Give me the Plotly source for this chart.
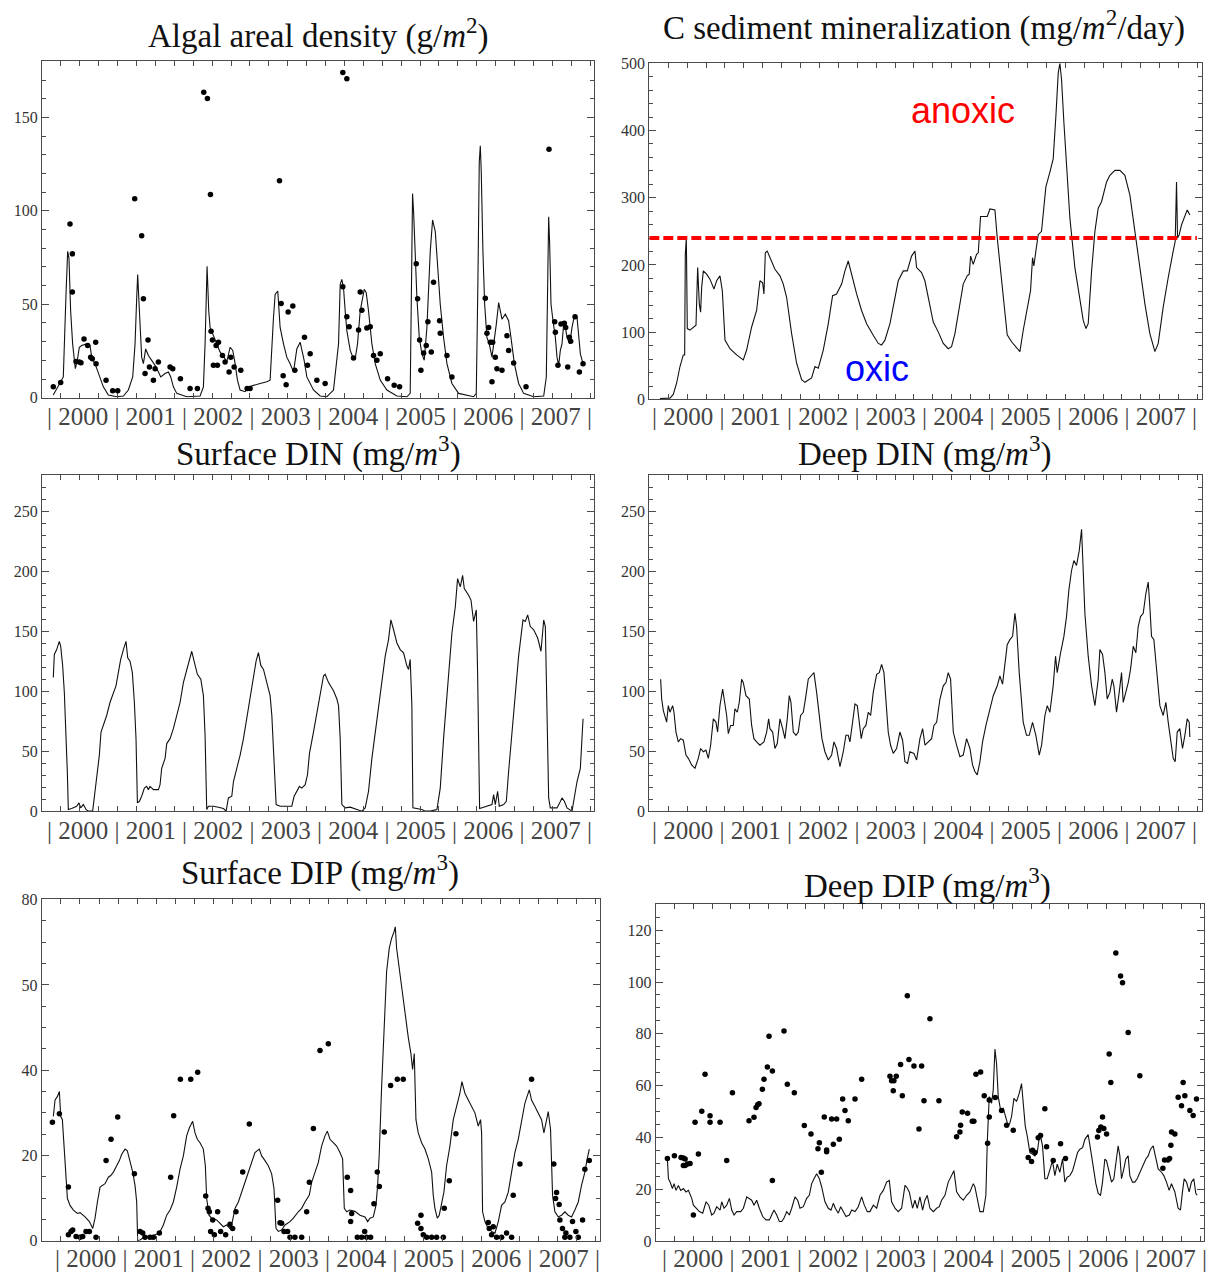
import plotly.graph_objects as go

# Time is expressed in years since 1 January 2000; x ticks every 100 days.
DAYS_PER_YEAR = 365.25
YEAR_LABELS = ["2000", "2001", "2002", "2003", "2004", "2005", "2006", "2007"]

# ---- Algal areal density (g/m^2): model line and observations ----
ALGAE_MODEL = [
    (0.164, 1.4), (0.309, 11.1), (0.348, 55.3), (0.372, 78.3), (0.391, 74.7), (0.415, 46.5),
    (0.444, 28.8), (0.483, 15.5), (0.512, 20.0), (0.541, 27.0), (0.575, 27.9), (0.647, 28.8),
    (0.696, 27.9), (0.720, 21.7), (0.768, 18.2), (0.816, 12.9), (0.889, 5.8), (0.961, 1.4),
    (1.082, 0.5), (1.179, 0.9), (1.251, 4.1), (1.314, 11.1), (1.348, 28.8), (1.372, 53.5),
    (1.386, 65.9), (1.411, 46.5), (1.444, 21.7), (1.469, 18.2), (1.502, 26.1), (1.541, 22.6),
    (1.589, 20.0), (1.638, 17.3), (1.686, 13.8), (1.720, 11.1), (1.783, 12.9), (1.831, 13.8),
    (1.865, 11.1), (1.903, 5.8), (1.952, 2.3), (2.097, 0.5), (2.290, 0.9), (2.338, 5.8),
    (2.362, 28.8), (2.377, 60.6), (2.391, 70.3), (2.415, 46.5), (2.435, 37.6), (2.483, 33.2),
    (2.531, 28.8), (2.580, 24.4), (2.638, 21.7), (2.676, 19.1), (2.725, 27.0), (2.763, 25.3),
    (2.797, 18.2), (2.831, 9.4), (2.870, 4.1), (2.942, 3.2), (2.990, 5.8), (3.063, 6.7),
    (3.159, 7.6), (3.256, 8.5), (3.304, 9.4), (3.353, 42.9), (3.377, 55.3), (3.415, 57.1),
    (3.449, 37.6), (3.498, 28.8), (3.546, 21.7), (3.594, 18.2), (3.643, 13.8), (3.691, 26.1),
    (3.739, 29.7), (3.797, 20.0), (3.836, 11.1), (3.932, 4.1), (4.029, 0.9), (4.126, 0.5),
    (4.222, 4.1), (4.295, 28.8), (4.319, 60.6), (4.343, 63.3), (4.367, 58.8), (4.391, 46.5),
    (4.415, 35.9), (4.464, 25.3), (4.502, 21.7), (4.536, 20.8), (4.570, 28.8), (4.609, 46.5),
    (4.667, 58.0), (4.696, 56.2), (4.729, 46.5), (4.778, 28.8), (4.826, 18.2), (4.899, 9.4),
    (4.995, 4.1), (5.140, 0.9), (5.285, 0.5), (5.333, 2.3), (5.353, 64.1), (5.367, 109.2),
    (5.382, 99.5), (5.406, 74.7), (5.430, 53.5), (5.464, 32.3), (5.502, 23.5), (5.536, 20.0),
    (5.575, 37.6), (5.623, 78.3), (5.657, 95.1), (5.696, 88.9), (5.729, 71.2), (5.768, 50.0),
    (5.816, 32.3), (5.865, 18.2), (5.937, 7.6), (6.034, 2.3), (6.251, 0.5), (6.290, 2.3),
    (6.314, 64.1), (6.333, 126.0), (6.348, 134.8), (6.362, 120.7), (6.386, 78.3), (6.411, 50.0),
    (6.444, 32.3), (6.478, 28.8), (6.517, 21.7), (6.551, 30.6), (6.580, 39.4), (6.614, 50.9),
    (6.638, 46.5), (6.662, 42.0), (6.710, 44.7), (6.758, 41.2), (6.792, 32.3), (6.841, 18.2),
    (6.903, 7.6), (6.976, 2.3), (7.121, 0.5), (7.266, 0.9), (7.304, 11.1), (7.324, 81.8),
    (7.338, 96.8), (7.353, 81.8), (7.372, 50.0), (7.401, 41.2), (7.435, 32.3), (7.459, 21.7),
    (7.483, 17.3), (7.507, 25.3), (7.531, 28.8), (7.556, 39.4), (7.580, 37.6), (7.604, 32.3),
    (7.643, 28.8), (7.676, 37.6), (7.710, 43.8), (7.749, 42.9), (7.773, 34.1), (7.797, 23.5),
    (7.836, 18.2),
]
ALGAE_OBS = [
    (0.164, 5.8), (0.271, 8.1), (0.406, 92.9), (0.440, 77.0), (0.440, 56.5), (0.493, 19.4),
    (0.541, 19.1), (0.565, 18.7), (0.609, 31.4), (0.662, 27.9), (0.705, 21.7), (0.729, 20.8),
    (0.783, 18.2), (0.778, 29.7), (0.928, 9.4), (1.024, 3.7), (1.097, 3.7), (1.343, 106.4),
    (1.444, 86.6), (1.469, 53.0), (1.493, 12.9), (1.536, 30.9), (1.556, 16.4), (1.614, 9.4),
    (1.638, 15.5), (1.686, 19.1), (1.855, 16.4), (1.894, 15.5), (2.005, 10.2), (2.145, 4.9),
    (2.251, 4.9), (2.343, 163.4), (2.396, 160.1), (2.440, 108.8), (2.449, 35.5), (2.469, 30.9),
    (2.483, 17.3), (2.522, 27.9), (2.541, 17.3), (2.556, 29.7), (2.614, 22.6), (2.652, 19.1),
    (2.710, 13.8), (2.734, 21.7), (2.783, 16.4), (2.879, 14.7), (2.971, 4.9), (3.014, 4.9),
    (3.440, 116.1), (3.464, 50.4), (3.493, 11.7), (3.536, 6.9), (3.565, 45.9), (3.633, 49.1),
    (3.662, 14.7), (3.802, 32.3), (3.845, 17.3), (3.884, 23.5), (3.981, 9.4), (4.101, 7.6),
    (4.357, 174.0), (4.415, 170.7), (4.357, 59.4), (4.415, 43.3), (4.449, 38.0), (4.512, 21.2),
    (4.585, 36.2), (4.633, 46.8), (4.609, 56.5), (4.705, 37.3), (4.754, 38.0), (4.802, 22.6),
    (4.850, 20.0), (4.899, 23.5), (5.005, 10.2), (5.101, 6.7), (5.179, 5.8), (5.420, 71.7),
    (5.440, 53.0), (5.469, 30.9), (5.488, 14.7), (5.527, 23.9), (5.565, 27.9), (5.589, 40.6),
    (5.638, 24.4), (5.671, 61.8), (5.758, 41.2), (5.768, 34.5), (5.865, 22.6), (5.937, 11.1),
    (6.420, 53.2), (6.444, 34.5), (6.469, 37.6), (6.493, 29.7), (6.517, 8.5), (6.527, 29.7),
    (6.565, 21.7), (6.589, 15.5), (6.662, 14.7), (6.734, 33.2), (6.758, 25.3), (6.831, 18.6),
    (7.010, 5.8), (7.343, 133.0), (7.425, 40.6), (7.435, 35.0), (7.473, 17.3), (7.517, 39.4),
    (7.565, 39.8), (7.585, 37.6), (7.614, 16.4), (7.638, 32.3), (7.657, 30.2), (7.720, 43.3),
    (7.783, 13.8), (7.836, 18.2),
]

# ---- C sediment mineralization (mg/m^2/day) ----
SED_MIN = [
    (0.154, 1.5), (0.299, 2.0), (0.347, 7.4), (0.396, 24.5), (0.444, 49.0), (0.492, 66.2),
    (0.512, 66.2), (0.521, 215.7), (0.536, 240.2), (0.550, 105.4), (0.589, 103.0), (0.637, 107.8),
    (0.676, 110.3), (0.700, 196.1), (0.724, 142.2), (0.743, 129.9), (0.758, 166.7), (0.782, 191.2),
    (0.830, 186.3), (0.878, 178.9), (0.936, 164.2), (0.975, 176.5), (1.023, 183.8), (1.057, 161.8),
    (1.096, 88.2), (1.168, 75.5), (1.264, 66.2), (1.361, 58.8), (1.409, 73.5), (1.482, 107.8),
    (1.554, 132.3), (1.602, 176.5), (1.641, 173.5), (1.660, 156.9), (1.680, 218.1), (1.708, 220.6),
    (1.747, 210.8), (1.819, 193.6), (1.892, 183.8), (1.940, 171.6), (1.988, 152.0), (2.061, 98.0),
    (2.133, 53.9), (2.206, 29.4), (2.254, 25.5), (2.350, 31.9), (2.399, 49.0), (2.447, 46.6),
    (2.519, 73.5), (2.592, 112.7), (2.654, 154.4), (2.712, 156.9), (2.785, 171.6), (2.833, 191.2),
    (2.881, 205.9), (2.929, 186.3), (3.002, 156.9), (3.074, 132.3), (3.147, 112.7), (3.243, 95.6),
    (3.316, 83.3), (3.364, 80.9), (3.412, 88.2), (3.485, 112.7), (3.557, 154.4), (3.605, 176.5),
    (3.678, 191.2), (3.736, 191.2), (3.798, 213.2), (3.847, 220.6), (3.871, 196.1), (3.943, 188.7),
    (3.991, 176.5), (4.064, 142.2), (4.112, 115.2), (4.184, 100.5), (4.257, 83.3), (4.329, 75.5),
    (4.377, 78.4), (4.426, 98.0), (4.498, 142.2), (4.546, 171.6), (4.604, 183.8), (4.633, 186.3),
    (4.653, 213.2), (4.691, 200.9), (4.739, 215.7), (4.764, 218.1), (4.797, 272.1), (4.894, 272.1),
    (4.933, 283.3), (5.005, 281.9), (5.039, 240.2), (5.087, 191.2), (5.150, 137.3), (5.183, 96.1),
    (5.246, 85.8), (5.309, 78.4), (5.367, 71.1), (5.415, 102.9), (5.473, 132.3), (5.521, 161.8),
    (5.550, 210.8), (5.569, 198.5), (5.598, 220.6), (5.632, 245.1), (5.680, 250.0), (5.743, 316.2),
    (5.801, 338.2), (5.849, 357.8), (5.888, 421.6), (5.922, 485.3), (5.946, 500.0), (5.970, 475.5),
    (6.004, 411.8), (6.042, 348.0), (6.091, 269.6), (6.163, 196.1), (6.236, 152.0), (6.284, 117.6),
    (6.323, 105.4), (6.356, 112.7), (6.405, 191.2), (6.453, 250.0), (6.501, 284.3), (6.549, 294.1),
    (6.622, 323.5), (6.670, 333.3), (6.743, 340.7), (6.815, 340.7), (6.887, 333.3), (6.960, 303.9),
    (7.032, 250.0), (7.104, 196.1), (7.177, 142.2), (7.249, 98.0), (7.322, 71.1), (7.370, 83.3),
    (7.442, 137.3), (7.515, 181.4), (7.563, 210.8), (7.587, 220.6), (7.616, 235.3), (7.635, 323.5),
    (7.650, 240.2), (7.674, 245.1), (7.708, 259.8), (7.756, 274.5), (7.790, 281.9), (7.828, 274.5),
]
ANOXIC_LEVEL = 240

# ---- Surface DIN (mg/m^3) ----
SURF_DIN = [
    (0.164, 111.3), (0.179, 130.5), (0.213, 134.6), (0.251, 141.5), (0.271, 137.4), (0.300, 120.9),
    (0.324, 98.9), (0.348, 65.9), (0.367, 33.0), (0.382, 1.4), (0.430, 2.2), (0.502, 4.1),
    (0.536, 6.9), (0.560, 2.7), (0.599, 5.5), (0.638, 1.4), (0.671, 0.0), (0.734, 0.0),
    (0.758, 11.0), (0.792, 27.5), (0.831, 46.7), (0.855, 65.9), (0.889, 71.4), (0.937, 79.7),
    (0.986, 90.7), (1.034, 98.9), (1.072, 104.4), (1.106, 115.4), (1.140, 126.4), (1.179, 134.6),
    (1.217, 141.5), (1.242, 127.7), (1.275, 125.0), (1.309, 115.4), (1.338, 90.7), (1.362, 60.4),
    (1.382, 6.9), (1.411, 8.2), (1.444, 12.4), (1.483, 19.2), (1.517, 20.6), (1.541, 17.9),
    (1.565, 20.6), (1.614, 17.9), (1.686, 17.9), (1.710, 22.0), (1.734, 35.7), (1.783, 44.0),
    (1.807, 56.3), (1.855, 60.4), (1.903, 68.7), (1.952, 79.7), (2.000, 90.7), (2.048, 107.1),
    (2.087, 115.4), (2.121, 125.0), (2.169, 133.2), (2.203, 125.0), (2.251, 114.0), (2.300, 109.9),
    (2.338, 96.2), (2.362, 63.2), (2.386, 1.4), (2.411, 4.1), (2.483, 4.1), (2.556, 3.3),
    (2.628, 2.2), (2.667, 0.0), (2.700, 11.0), (2.749, 12.4), (2.773, 24.7), (2.821, 35.7),
    (2.870, 46.7), (2.918, 60.4), (2.966, 76.9), (3.014, 93.4), (3.063, 109.9), (3.101, 125.0),
    (3.135, 132.1), (3.169, 121.4), (3.208, 118.1), (3.256, 107.1), (3.304, 96.2), (3.329, 79.7),
    (3.353, 46.7), (3.391, 5.5), (3.449, 4.1), (3.546, 4.1), (3.618, 4.1), (3.652, 12.4),
    (3.691, 16.5), (3.729, 20.6), (3.763, 19.2), (3.812, 22.0), (3.845, 30.2), (3.874, 48.1),
    (3.932, 65.9), (3.981, 82.4), (4.029, 98.9), (4.077, 112.6), (4.101, 114.0), (4.150, 107.1),
    (4.222, 100.3), (4.271, 93.4), (4.295, 87.9), (4.319, 60.4), (4.343, 5.5), (4.391, 2.7),
    (4.464, 3.3), (4.560, 1.4), (4.633, 0.0), (4.681, 2.7), (4.729, 16.5), (4.778, 44.0),
    (4.826, 65.9), (4.899, 98.9), (4.971, 129.1), (5.019, 142.9), (5.053, 159.3), (5.092, 151.1),
    (5.140, 140.1), (5.188, 134.6), (5.237, 131.9), (5.285, 120.9), (5.309, 118.1), (5.333, 126.4),
    (5.357, 87.9), (5.372, 2.7), (5.406, 2.2), (5.502, 1.4), (5.551, 0.0), (5.623, 0.0),
    (5.720, 1.4), (5.768, 19.2), (5.816, 60.4), (5.865, 98.9), (5.937, 148.4), (5.986, 170.3),
    (6.019, 193.7), (6.058, 186.8), (6.092, 196.4), (6.116, 185.4), (6.179, 179.9), (6.213, 175.8),
    (6.251, 158.0), (6.290, 167.6), (6.309, 115.4), (6.338, 2.2), (6.444, 4.1), (6.517, 5.5),
    (6.541, 13.7), (6.565, 5.5), (6.599, 16.5), (6.623, 4.1), (6.686, 5.5), (6.725, 8.2),
    (6.758, 33.0), (6.807, 65.9), (6.855, 101.6), (6.903, 129.1), (6.966, 159.3), (7.000, 158.0),
    (7.034, 163.5), (7.072, 153.8), (7.121, 151.1), (7.179, 144.2), (7.227, 133.2), (7.266, 159.3),
    (7.290, 153.8), (7.314, 87.9), (7.338, 11.0), (7.362, 2.7), (7.459, 2.7), (7.498, 6.9),
    (7.531, 11.0), (7.565, 8.2), (7.604, 2.7), (7.676, 0.0), (7.710, 11.0), (7.749, 24.7),
    (7.797, 35.7), (7.836, 76.9),
]

# ---- Deep DIN (mg/m^3) ----
DEEP_DIN = [
    (0.164, 109.9), (0.179, 93.4), (0.203, 83.8), (0.227, 79.7), (0.251, 74.2), (0.275, 87.9),
    (0.299, 82.4), (0.338, 87.9), (0.357, 82.4), (0.386, 65.9), (0.420, 57.7), (0.454, 60.4),
    (0.492, 59.1), (0.531, 46.7), (0.565, 44.0), (0.613, 38.5), (0.661, 35.7), (0.709, 44.0),
    (0.743, 52.2), (0.782, 49.5), (0.820, 50.8), (0.854, 44.0), (0.888, 54.9), (0.927, 76.9),
    (0.965, 74.2), (0.989, 65.9), (1.023, 87.9), (1.062, 101.6), (1.096, 87.9), (1.120, 79.7),
    (1.144, 64.6), (1.178, 71.4), (1.216, 71.4), (1.240, 85.2), (1.274, 82.4), (1.303, 90.7),
    (1.337, 109.9), (1.361, 107.1), (1.400, 96.2), (1.448, 93.4), (1.482, 71.4), (1.515, 60.4),
    (1.554, 57.7), (1.602, 54.9), (1.660, 57.7), (1.699, 65.9), (1.728, 76.9), (1.747, 68.7),
    (1.786, 65.9), (1.819, 52.2), (1.853, 56.3), (1.892, 76.9), (1.931, 68.7), (1.964, 60.4),
    (1.998, 76.9), (2.027, 96.2), (2.051, 90.7), (2.085, 65.9), (2.124, 63.2), (2.157, 65.9),
    (2.191, 79.7), (2.230, 82.4), (2.268, 96.2), (2.302, 109.9), (2.341, 112.6), (2.384, 115.4),
    (2.423, 98.9), (2.461, 76.9), (2.500, 60.4), (2.543, 49.5), (2.592, 42.6), (2.640, 46.7),
    (2.674, 57.7), (2.712, 52.2), (2.761, 37.1), (2.809, 49.5), (2.847, 63.2), (2.881, 63.2),
    (2.905, 57.7), (2.944, 74.2), (2.978, 89.3), (3.012, 87.9), (3.041, 74.2), (3.069, 60.4),
    (3.098, 68.7), (3.137, 71.4), (3.171, 82.4), (3.205, 79.7), (3.243, 98.9), (3.292, 114.0),
    (3.330, 115.4), (3.364, 122.3), (3.398, 115.4), (3.427, 87.9), (3.460, 65.9), (3.494, 54.9),
    (3.533, 48.1), (3.581, 52.2), (3.629, 65.9), (3.668, 59.1), (3.702, 41.2), (3.740, 39.8),
    (3.774, 49.5), (3.832, 48.1), (3.871, 42.6), (3.919, 60.4), (3.958, 68.7), (3.992, 55.0),
    (4.040, 57.7), (4.088, 60.4), (4.122, 71.4), (4.161, 74.0), (4.209, 93.4), (4.257, 104.4),
    (4.296, 107.1), (4.329, 115.4), (4.363, 109.9), (4.402, 65.9), (4.450, 55.0), (4.498, 45.3),
    (4.546, 46.7), (4.595, 60.4), (4.643, 52.2), (4.681, 38.5), (4.715, 33.0), (4.749, 30.2),
    (4.788, 41.2), (4.826, 57.7), (4.875, 71.4), (4.932, 85.2), (4.981, 96.2), (5.039, 104.4),
    (5.077, 112.6), (5.116, 105.8), (5.150, 120.9), (5.183, 138.7), (5.222, 142.9), (5.261, 145.6),
    (5.295, 164.8), (5.319, 153.8), (5.357, 115.4), (5.415, 74.0), (5.463, 63.2), (5.502, 63.2),
    (5.550, 74.0), (5.598, 63.2), (5.647, 46.7), (5.681, 55.0), (5.729, 79.7), (5.763, 87.9),
    (5.801, 82.4), (5.849, 104.4), (5.883, 129.1), (5.907, 115.4), (5.956, 131.9), (6.004, 145.6),
    (6.042, 162.1), (6.076, 184.1), (6.115, 200.5), (6.149, 208.8), (6.187, 204.7), (6.226, 217.0),
    (6.260, 234.9), (6.284, 203.3), (6.308, 164.8), (6.356, 129.1), (6.405, 104.4), (6.453, 87.9),
    (6.501, 109.9), (6.525, 134.6), (6.564, 130.5), (6.598, 115.4), (6.631, 93.4), (6.670, 98.9),
    (6.704, 109.9), (6.728, 104.4), (6.766, 82.4), (6.805, 98.9), (6.839, 115.4), (6.863, 90.7),
    (6.902, 98.9), (6.936, 107.1), (6.969, 118.1), (7.008, 137.4), (7.046, 131.9), (7.080, 153.8),
    (7.114, 162.1), (7.153, 164.8), (7.191, 181.3), (7.225, 190.9), (7.249, 170.3), (7.273, 145.6),
    (7.307, 142.9), (7.346, 120.9), (7.394, 87.9), (7.442, 79.7), (7.481, 90.7), (7.515, 74.0),
    (7.548, 60.4), (7.587, 44.0), (7.616, 41.2), (7.645, 65.9), (7.683, 68.7), (7.722, 52.2),
    (7.756, 63.2), (7.790, 76.9), (7.819, 74.0), (7.828, 61.8),
]

# ---- Surface DIP (mg/m^3): model line and observations ----
SURF_DIP_MODEL = [
    (0.167, 29.2), (0.191, 33.0), (0.224, 33.8), (0.253, 35.0), (0.272, 29.2), (0.296, 28.4),
    (0.320, 22.2), (0.344, 16.0), (0.368, 9.9), (0.406, 8.3), (0.454, 7.2), (0.511, 6.4),
    (0.549, 6.6), (0.621, 5.6), (0.683, 4.5), (0.731, 2.9), (0.764, 5.3), (0.798, 9.1),
    (0.836, 12.6), (0.907, 13.4), (0.955, 14.9), (0.989, 15.3), (1.027, 16.1), (1.074, 17.6),
    (1.113, 18.8), (1.146, 20.3), (1.194, 21.5), (1.227, 21.1), (1.266, 18.4), (1.304, 16.1),
    (1.337, 13.0), (1.361, 9.1), (1.375, 0.0), (1.409, 0.2), (1.480, 1.0), (1.552, 1.0),
    (1.624, 1.4), (1.686, 1.8), (1.743, 3.7), (1.791, 6.0), (1.839, 7.2), (1.886, 9.1),
    (1.934, 12.6), (1.982, 16.8), (2.030, 19.9), (2.077, 24.6), (2.116, 26.5), (2.163, 28.0),
    (2.197, 25.3), (2.230, 23.8), (2.268, 23.0), (2.316, 21.5), (2.345, 17.6), (2.364, 9.9),
    (2.397, 6.0), (2.436, 5.3), (2.507, 4.9), (2.555, 4.1), (2.603, 3.3), (2.650, 3.7),
    (2.698, 2.9), (2.732, 4.5), (2.770, 7.6), (2.818, 9.1), (2.865, 11.4), (2.913, 13.7),
    (2.961, 16.1), (3.009, 18.8), (3.056, 20.7), (3.118, 21.5), (3.152, 19.9), (3.200, 18.8),
    (3.247, 17.6), (3.295, 15.7), (3.329, 12.2), (3.357, 2.9), (3.391, 2.2), (3.438, 2.5),
    (3.486, 3.7), (3.558, 4.5), (3.606, 5.3), (3.677, 6.8), (3.725, 7.6), (3.773, 9.1),
    (3.835, 10.7), (3.868, 13.7), (3.916, 16.1), (3.964, 18.4), (4.011, 22.2), (4.059, 24.6),
    (4.093, 25.7), (4.131, 23.8), (4.179, 23.0), (4.226, 22.2), (4.274, 20.7), (4.312, 19.2),
    (4.336, 7.6), (4.370, 6.8), (4.417, 7.2), (4.489, 6.9), (4.561, 6.0), (4.633, 5.6),
    (4.671, 4.5), (4.704, 5.3), (4.752, 5.6), (4.790, 8.3), (4.814, 13.0), (4.838, 20.7),
    (4.871, 36.1), (4.909, 51.6), (4.943, 63.2), (4.981, 68.6), (5.014, 70.9), (5.048, 72.4),
    (5.067, 73.6), (5.086, 68.6), (5.124, 63.9), (5.158, 59.3), (5.191, 54.7), (5.220, 51.6),
    (5.253, 47.7), (5.291, 43.9), (5.315, 40.2), (5.339, 43.9), (5.363, 28.4), (5.396, 25.3),
    (5.444, 23.0), (5.492, 21.5), (5.540, 19.2), (5.588, 16.1), (5.611, 10.7), (5.635, 7.6),
    (5.669, 5.3), (5.697, 6.0), (5.731, 9.1), (5.764, 11.4), (5.802, 17.6), (5.850, 22.2),
    (5.898, 28.4), (5.946, 31.5), (5.993, 34.6), (6.022, 37.3), (6.065, 34.6), (6.113, 33.0),
    (6.160, 31.5), (6.208, 30.0), (6.256, 26.9), (6.289, 28.4), (6.304, 25.3), (6.318, 6.8),
    (6.352, 4.5), (6.399, 2.9), (6.447, 2.2), (6.495, 1.8), (6.543, 4.5), (6.590, 8.3),
    (6.638, 9.1), (6.686, 11.4), (6.734, 16.1), (6.781, 20.7), (6.829, 23.8), (6.877, 28.4),
    (6.925, 32.3), (6.987, 35.4), (7.020, 33.0), (7.068, 31.5), (7.116, 30.0), (7.163, 28.4),
    (7.197, 25.3), (7.235, 28.4), (7.259, 30.3), (7.292, 26.1), (7.321, 10.7), (7.354, 6.8),
    (7.402, 5.6), (7.450, 6.0), (7.498, 6.8), (7.545, 6.0), (7.593, 5.6), (7.641, 7.2),
    (7.689, 9.1), (7.736, 13.0), (7.784, 16.1), (7.818, 19.2), (7.847, 21.5),
]
SURF_DIP_OBS = [
    (0.153, 27.8), (0.253, 29.8), (0.382, 12.6), (0.382, 1.4), (0.420, 2.2), (0.444, 2.5),
    (0.492, 1.0), (0.549, 0.8), (0.587, 1.0), (0.635, 2.2), (0.683, 2.2), (0.778, 0.8),
    (0.922, 18.8), (0.993, 23.8), (1.089, 29.0), (1.328, 15.7), (1.409, 2.2), (1.447, 1.8),
    (1.480, 0.8), (1.552, 0.8), (1.600, 0.8), (1.686, 1.8), (1.848, 14.9), (1.891, 29.3),
    (1.987, 37.9), (2.135, 37.9), (2.235, 39.5), (2.350, 10.5), (2.383, 7.6), (2.402, 6.8),
    (2.421, 2.2), (2.450, 4.9), (2.474, 1.4), (2.521, 6.8), (2.564, 2.2), (2.636, 1.4),
    (2.698, 3.9), (2.736, 2.9), (2.784, 6.8), (2.880, 16.1), (2.975, 27.4), (3.381, 9.5),
    (3.415, 4.2), (3.438, 4.1), (3.472, 2.2), (3.524, 2.2), (3.558, 0.8), (3.629, 0.8),
    (3.725, 0.8), (3.797, 6.8), (3.835, 13.7), (3.893, 26.3), (3.988, 44.6), (4.107, 46.2),
    (4.379, 14.9), (4.427, 11.8), (4.427, 4.5), (4.442, 6.4), (4.523, 0.8), (4.585, 0.8),
    (4.628, 2.2), (4.656, 0.8), (4.713, 0.8), (4.761, 8.7), (4.809, 16.1), (4.838, 12.7),
    (4.909, 25.5), (5.000, 36.4), (5.096, 37.9), (5.181, 37.9), (5.387, 4.1), (5.435, 6.0),
    (5.435, 2.9), (5.468, 1.4), (5.516, 0.8), (5.588, 0.8), (5.659, 0.8), (5.755, 0.8),
    (5.769, 7.6), (5.841, 14.1), (5.936, 25.1), (6.399, 4.3), (6.414, 2.9), (6.447, 1.4),
    (6.471, 3.3), (6.519, 0.8), (6.591, 0.8), (6.662, 1.8), (6.734, 0.8), (6.757, 10.7),
    (6.853, 18.0), (7.020, 37.9), (7.339, 18.0), (7.364, 9.9), (7.378, 11.3), (7.416, 8.5),
    (7.426, 4.9), (7.463, 2.9), (7.497, 0.8), (7.512, 1.8), (7.569, 0.8), (7.607, 4.5),
    (7.655, 2.2), (7.689, 0.8), (7.751, 4.9), (7.784, 16.8), (7.847, 18.8),
]
SURF_DIP_TICKS = [0, 20, 40, 60, 80]
SURF_DIP_TICKTEXT = ["0", "20", "40", "50", "80"]

# ---- Deep DIP (mg/m^3): model line and observations ----
DEEP_DIP_MODEL = [
    (0.170, 31.7), (0.185, 24.1), (0.209, 22.8), (0.243, 20.3), (0.267, 22.2), (0.296, 19.6),
    (0.330, 21.5), (0.364, 19.6), (0.403, 20.3), (0.442, 19.0), (0.476, 19.6), (0.525, 16.5),
    (0.549, 13.9), (0.588, 12.7), (0.637, 11.4), (0.685, 10.8), (0.734, 15.2), (0.773, 13.9),
    (0.816, 10.1), (0.850, 10.8), (0.889, 13.3), (0.938, 12.0), (0.962, 15.2), (0.996, 12.7),
    (1.035, 13.9), (1.074, 16.5), (1.108, 12.0), (1.142, 10.1), (1.181, 11.4), (1.239, 11.4),
    (1.278, 12.7), (1.327, 17.1), (1.365, 16.5), (1.399, 15.8), (1.433, 13.9), (1.472, 15.8),
    (1.511, 12.7), (1.560, 9.5), (1.608, 8.2), (1.657, 8.2), (1.691, 10.1), (1.725, 12.0),
    (1.764, 10.1), (1.803, 7.6), (1.837, 7.6), (1.871, 8.9), (1.910, 11.4), (1.948, 10.1),
    (1.983, 12.7), (2.031, 17.1), (2.070, 15.8), (2.104, 12.7), (2.153, 13.3), (2.201, 16.5),
    (2.240, 17.7), (2.274, 22.2), (2.308, 24.1), (2.347, 26.0), (2.386, 24.1), (2.420, 20.9),
    (2.468, 15.2), (2.517, 12.7), (2.556, 12.0), (2.590, 14.6), (2.619, 12.7), (2.663, 10.8),
    (2.697, 13.3), (2.736, 11.4), (2.775, 9.5), (2.823, 10.1), (2.857, 12.0), (2.906, 11.4),
    (2.954, 13.3), (3.003, 17.1), (3.042, 13.9), (3.086, 11.4), (3.124, 11.4), (3.173, 13.9),
    (3.222, 12.7), (3.270, 17.7), (3.319, 19.6), (3.367, 22.8), (3.406, 23.4), (3.440, 15.2),
    (3.489, 12.7), (3.537, 11.4), (3.586, 12.7), (3.635, 21.5), (3.659, 20.9), (3.698, 19.0),
    (3.746, 12.7), (3.780, 15.8), (3.814, 12.7), (3.853, 17.1), (3.892, 12.0), (3.926, 15.8),
    (3.960, 17.7), (3.999, 12.7), (4.048, 11.4), (4.096, 12.7), (4.135, 13.3), (4.169, 15.8),
    (4.218, 17.7), (4.266, 22.8), (4.315, 25.3), (4.349, 27.2), (4.388, 19.0), (4.436, 17.1),
    (4.485, 15.8), (4.534, 17.7), (4.582, 19.0), (4.631, 22.2), (4.655, 20.9), (4.679, 17.7),
    (4.728, 11.4), (4.777, 11.4), (4.815, 17.7), (4.835, 38.0), (4.864, 55.8), (4.898, 53.2),
    (4.922, 58.3), (4.947, 74.1), (4.971, 68.4), (4.995, 55.8), (5.029, 50.7), (5.068, 51.3),
    (5.102, 48.2), (5.141, 44.4), (5.165, 45.6), (5.190, 48.2), (5.224, 55.1), (5.262, 53.9),
    (5.301, 57.0), (5.335, 60.8), (5.360, 53.2), (5.389, 44.4), (5.418, 40.6), (5.457, 34.2),
    (5.496, 33.6), (5.530, 32.9), (5.564, 34.2), (5.603, 41.8), (5.641, 36.8), (5.675, 24.1),
    (5.709, 24.1), (5.748, 27.9), (5.787, 31.0), (5.821, 25.3), (5.855, 29.7), (5.894, 26.6),
    (5.933, 31.7), (5.967, 22.8), (6.001, 24.7), (6.040, 25.3), (6.079, 27.2), (6.113, 30.4),
    (6.152, 34.2), (6.186, 35.5), (6.225, 36.1), (6.259, 39.3), (6.307, 41.1), (6.341, 35.5),
    (6.380, 27.9), (6.419, 22.2), (6.453, 18.4), (6.487, 17.7), (6.516, 22.8), (6.550, 31.7),
    (6.575, 31.0), (6.613, 26.6), (6.647, 22.8), (6.681, 24.1), (6.710, 30.4), (6.744, 36.8),
    (6.769, 32.9), (6.793, 24.1), (6.827, 27.9), (6.856, 31.7), (6.890, 32.9), (6.914, 25.3),
    (6.953, 22.8), (6.987, 22.8), (7.021, 24.1), (7.060, 26.6), (7.099, 29.1), (7.148, 31.7),
    (7.182, 32.9), (7.216, 35.5), (7.255, 36.8), (7.289, 32.9), (7.328, 27.9), (7.376, 26.6),
    (7.410, 25.3), (7.449, 22.8), (7.488, 19.6), (7.522, 22.2), (7.571, 19.0), (7.619, 12.7),
    (7.653, 12.0), (7.682, 19.0), (7.707, 24.1), (7.741, 22.8), (7.780, 19.0), (7.813, 22.8),
    (7.847, 24.1), (7.877, 18.4), (7.896, 17.7),
]
DEEP_DIP_OBS = [
    (0.170, 31.9), (0.272, 33.0), (0.369, 32.3), (0.403, 32.1), (0.403, 29.2), (0.428, 31.7),
    (0.428, 29.2), (0.462, 29.8), (0.500, 30.0), (0.549, 10.1), (0.573, 45.9), (0.622, 33.6),
    (0.671, 50.1), (0.719, 64.4), (0.792, 48.4), (0.792, 45.9), (0.938, 45.9), (1.035, 31.1),
    (1.118, 57.3), (1.360, 46.5), (1.433, 47.8), (1.463, 51.6), (1.487, 52.6), (1.506, 53.0),
    (1.555, 58.6), (1.579, 62.5), (1.628, 67.2), (1.652, 79.1), (1.701, 65.7), (1.701, 23.4),
    (1.871, 81.1), (1.919, 60.6), (2.021, 57.3), (2.167, 44.6), (2.264, 41.4), (2.366, 35.7),
    (2.386, 38.0), (2.415, 26.6), (2.458, 47.9), (2.492, 35.2), (2.492, 34.5), (2.565, 47.1),
    (2.590, 37.4), (2.638, 47.1), (2.677, 39.3), (2.726, 54.9), (2.760, 50.4), (2.808, 46.5),
    (2.906, 54.9), (3.003, 62.5), (3.416, 63.6), (3.440, 61.9), (3.464, 58.0), (3.474, 61.9),
    (3.508, 63.6), (3.571, 68.2), (3.596, 56.1), (3.669, 94.7), (3.693, 70.1), (3.766, 67.6),
    (3.839, 43.3), (3.878, 67.6), (3.912, 54.2), (3.999, 85.8), (4.130, 54.2), (4.388, 40.3),
    (4.436, 42.1), (4.446, 44.7), (4.470, 49.8), (4.548, 49.4), (4.616, 46.3), (4.640, 46.3),
    (4.670, 64.4), (4.738, 65.3), (4.791, 56.1), (4.840, 37.8), (4.864, 47.9), (4.864, 54.5),
    (4.952, 55.4), (5.044, 50.4), (5.117, 44.7), (5.214, 42.8), (5.432, 32.3), (5.481, 30.7),
    (5.496, 35.1), (5.530, 34.2), (5.578, 39.9), (5.612, 40.8), (5.675, 51.1), (5.700, 36.4),
    (5.797, 31.1), (5.904, 37.6), (5.976, 31.9), (6.443, 40.2), (6.462, 42.7), (6.491, 44.1),
    (6.516, 47.9), (6.535, 43.5), (6.575, 41.4), (6.613, 72.2), (6.637, 61.2), (6.710, 111.2),
    (6.779, 102.3), (6.808, 99.7), (6.890, 80.5), (7.060, 63.8), (7.397, 28.1), (7.421, 31.3),
    (7.470, 31.3), (7.494, 31.9), (7.513, 37.0), (7.523, 42.1), (7.571, 41.4), (7.619, 55.5),
    (7.668, 52.3), (7.692, 61.2), (7.717, 56.1), (7.790, 50.4), (7.838, 48.5), (7.887, 54.9),
]

SERIF = "Liberation Serif, Times New Roman, serif"
SANS = "Liberation Sans, Arial, sans-serif"
FRAME = "#4a4a4a"
W, H = 1213, 1281


def split(pairs):
    return [p[0] for p in pairs], [p[1] for p in pairs]


# Panel geometry (paper fractions) and axis settings.
panels = [
    dict(title="Algal areal density (g/<i>m</i><sup>2</sup>)", xd=[0.0346, 0.4900], yd=[0.6917, 0.9578],
         yr=[0, 180], dtick=50, mdt=10, tx=0.2622, ty=0.9795, lx=0.2638, ly=0.6772,
         line=ALGAE_MODEL, obs=ALGAE_OBS),
    dict(title="C sediment mineralization (mg/<i>m</i><sup>2</sup>/day)", xd=[0.5353, 0.9907],
         yd=[0.6903, 0.9563], yr=[0, 500], dtick=100, mdt=20, tx=0.7618, ty=0.9862,
         lx=0.7618, ly=0.6772, line=SED_MIN, obs=None),
    dict(title="Surface DIN (mg/<i>m</i><sup>3</sup>)", xd=[0.0346, 0.4900], yd=[0.3646, 0.6305],
         yr=[0, 280], dtick=50, mdt=10, tx=0.2622, ty=0.6488, lx=0.2638, ly=0.3490,
         line=SURF_DIN, obs=None),
    dict(title="Deep DIN (mg/<i>m</i><sup>3</sup>)", xd=[0.5353, 0.9907], yd=[0.3646, 0.6305],
         yr=[0, 280], dtick=50, mdt=10, tx=0.7626, ty=0.6488, lx=0.7618, ly=0.3490,
         line=DEEP_DIN, obs=None),
    dict(title="Surface DIP (mg/<i>m</i><sup>3</sup>)", xd=[0.0344, 0.4946], yd=[0.0247, 0.2953],
         yr=[0, 80.2], dtick=None, mdt=5, tx=0.2638, ty=0.3180, lx=0.2704, ly=0.0109,
         line=SURF_DIP_MODEL, obs=SURF_DIP_OBS),
    dict(title="Deep DIP (mg/<i>m</i><sup>3</sup>)", xd=[0.5406, 0.9928], yd=[0.0244, 0.2909],
         yr=[0, 130], dtick=20, mdt=5, tx=0.7650, ty=0.3072, lx=0.7700, ly=0.0109,
         line=DEEP_DIP_MODEL, obs=DEEP_DIP_OBS),
]

year_text = "| " + " | ".join(YEAR_LABELS) + " |"

fig = go.Figure()
layout = dict(
    width=W, height=H, margin=dict(l=0, r=0, t=0, b=0),
    paper_bgcolor="white", plot_bgcolor="white", showlegend=False,
    annotations=[], shapes=[],
)

for i, p in enumerate(panels, start=1):
    xa = "x" if i == 1 else f"x{i}"
    ya = "y" if i == 1 else f"y{i}"
    lt, lv = split(p["line"])
    fig.add_trace(go.Scatter(x=lt, y=lv, mode="lines", xaxis=xa, yaxis=ya,
                             line=dict(color="#111111", width=1.1), hoverinfo="skip"))
    if p["obs"]:
        ot, ov = split(p["obs"])
        fig.add_trace(go.Scatter(x=ot, y=ov, mode="markers", xaxis=xa, yaxis=ya,
                                 marker=dict(color="#000000", size=5.5, line=dict(width=0)),
                                 hoverinfo="skip"))

    xkey = "xaxis" if i == 1 else f"xaxis{i}"
    ykey = "yaxis" if i == 1 else f"yaxis{i}"
    layout[xkey] = dict(
        domain=p["xd"], anchor=ya, range=[0, 8], showgrid=False, zeroline=False,
        showline=True, linecolor=FRAME, linewidth=1, mirror="allticks",
        ticks="inside", ticklen=5, tickcolor=FRAME, tickwidth=1,
        tick0=0, dtick=100 / DAYS_PER_YEAR, showticklabels=False,
    )
    yax = dict(
        domain=p["yd"], anchor=xa, range=p["yr"], showgrid=False, zeroline=False,
        showline=True, linecolor=FRAME, linewidth=1, mirror="allticks",
        ticks="inside", ticklen=7, tickcolor=FRAME, tickwidth=1,
        tickfont=dict(family=SERIF, size=16, color="#333333"),
        minor=dict(dtick=p["mdt"], tick0=0, ticks="inside", ticklen=4,
                   tickcolor=FRAME, tickwidth=1, showgrid=False),
    )
    if p["dtick"] is None:
        yax.update(tickmode="array", tickvals=SURF_DIP_TICKS, ticktext=SURF_DIP_TICKTEXT)
    else:
        yax.update(tick0=0, dtick=p["dtick"])
    layout[ykey] = yax

    layout["annotations"].append(dict(
        text=p["title"], x=p["tx"], y=p["ty"], xref="paper", yref="paper",
        xanchor="center", yanchor="middle", showarrow=False,
        font=dict(family=SERIF, size=33, color="#111111"),
    ))
    layout["annotations"].append(dict(
        text=year_text, x=p["lx"], y=p["ly"], xref="paper", yref="paper",
        xanchor="center", yanchor="middle", showarrow=False,
        font=dict(family=SERIF, size=25, color="#444444"),
    ))

# Anoxic threshold on the sediment mineralization panel.
layout["shapes"].append(dict(
    type="line", xref="x2", yref="y2", x0=0, x1=7.93, y0=ANOXIC_LEVEL, y1=ANOXIC_LEVEL,
    line=dict(color="#ff0000", width=4, dash="10px,4px"),
))
layout["annotations"].append(dict(
    text="anoxic", x=4.54, y=430, xref="x2", yref="y2", showarrow=False,
    xanchor="center", yanchor="middle", font=dict(family=SANS, size=36, color="#ff0000"),
))
layout["annotations"].append(dict(
    text="oxic", x=3.30, y=46, xref="x2", yref="y2", showarrow=False,
    xanchor="center", yanchor="middle", font=dict(family=SANS, size=36, color="#0000ff"),
))

fig.update_layout(**layout)
fig.write_html("out.html")
